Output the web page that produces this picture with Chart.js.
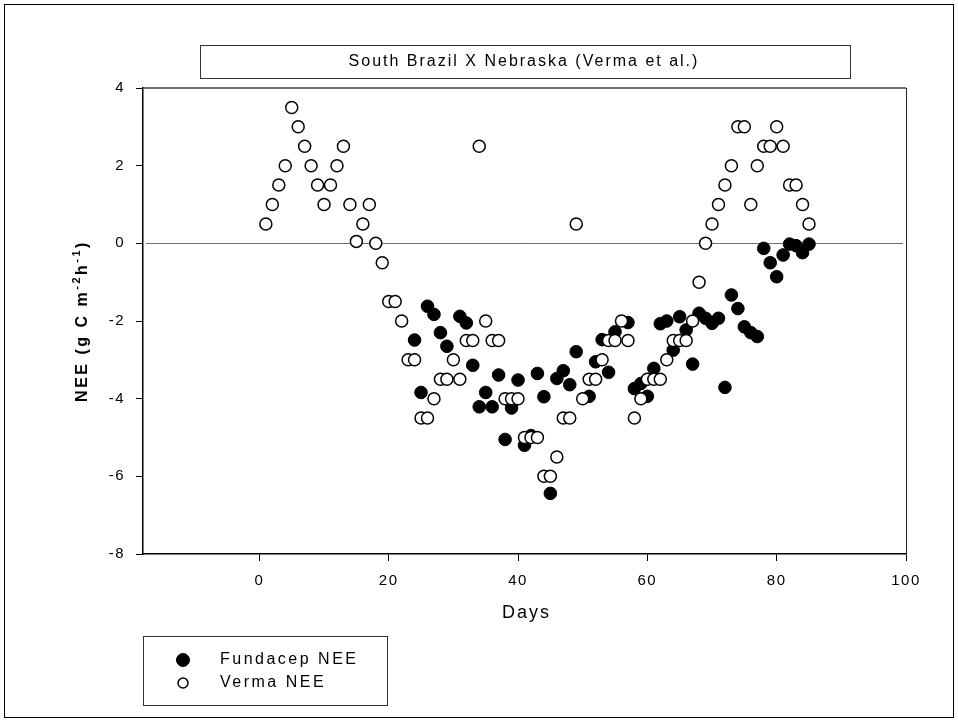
<!DOCTYPE html>
<html>
<head>
<meta charset="utf-8">
<script src="https://cdn.jsdelivr.net/npm/chart.js@4/dist/chart.umd.min.js"></script>
<style>
  html, body { margin: 0; padding: 0; background: #fff; }
  #wrap { width: 958px; height: 722px; position: relative; }
</style>
</head>
<body>
<div id="wrap"><canvas id="c" width="958" height="722"></canvas></div>
<script>
// Days of each measurement and the NEE values (g C m-2 h-1)
const fundacepDays = [24,25,26,27,28,29,31,32,33,34,35,36,37,38,39,40,41,42,43,44,45,46,47,48,49,51,52,53,54,55,57,58,59,60,61,62,63,64,65,66,67,68,69,70,71,72,73,74,75,76,77,78,79,80,81,82,83,84,85];
const fundacepNEE = [-2.49,-3.84,-1.62,-1.83,-2.3,-2.65,-1.88,-2.05,-3.14,-4.21,-3.84,-4.21,-3.39,-5.05,-4.24,-3.52,-5.2,-4.95,-3.35,-3.95,-6.44,-3.48,-3.28,-3.64,-2.79,-3.94,-3.05,-2.48,-3.32,-2.28,-2.04,-3.74,-3.61,-3.94,-3.22,-2.07,-2.0,-2.75,-1.89,-2.23,-3.11,-1.8,-1.93,-2.06,-1.93,-3.71,-1.33,-1.68,-2.15,-2.3,-2.4,-0.13,-0.5,-0.86,-0.3,-0.02,-0.06,-0.24,-0.02];

const vermaDays = [1,2,3,4,5,6,7,8,9,10,11,12,13,14,15,16,17,18,19,20,21,22,23,24,25,26,27,28,29,30,31,32,33,34,35,36,37,38,39,40,41,42,43,44,45,46,47,48,49,50,51,52,53,54,55,56,57,58,59,60,61,62,63,64,65,66,67,68,69,70,71,72,73,74,75,76,77,78,79,80,81,82,83,84,85];
const vermaNEE = [0.5,1.0,1.5,2.0,3.5,3.0,2.5,2.0,1.5,1.0,1.5,2.0,2.5,1.0,0.05,0.5,1.0,0.0,-0.5,-1.5,-1.5,-2.0,-3.0,-3.0,-4.5,-4.5,-4.0,-3.5,-3.5,-3.0,-3.5,-2.5,-2.5,2.5,-2.0,-2.5,-2.5,-4.0,-4.0,-4.0,-5.0,-5.0,-5.0,-6.0,-6.0,-5.5,-4.5,-4.5,0.5,-4.0,-3.5,-3.5,-3.0,-2.5,-2.5,-2.0,-2.5,-4.5,-4.0,-3.5,-3.5,-3.5,-3.0,-2.5,-2.5,-2.5,-2.0,-1.0,0.0,0.5,1.0,1.5,2.0,3.0,3.0,1.0,2.0,2.5,2.5,3.0,2.5,1.5,1.5,1.0,0.5];

const xTicks = [0, 20, 40, 60, 80, 100];
const yTicks = [-8, -6, -4, -2, 0, 2, 4];

const titleText = 'South Brazil X Nebraska (Verma et al.)';
const xTitle = 'Days';

const FONT = '"Liberation Sans", Arial, sans-serif';

function pairs(xs, ys) { return xs.map((x, i) => ({ x: x, y: ys[i] })); }

// Frame, zero line, title box, axis titles and legend box
const decorations = {
  id: 'decorations',
  beforeDraw(chart) {
    // character spacing used for the tick labels
    chart.ctx.letterSpacing = '1.5px';
  },
  beforeDatasetsDraw(chart) {
    const { ctx, chartArea: a, scales: { y } } = chart;
    ctx.save();
    ctx.letterSpacing = '0px';
    // reference line at NEE = 0
    const y0 = Math.round(y.getPixelForValue(0)) + 0.5;
    ctx.strokeStyle = '#6e6e6e';
    ctx.lineWidth = 1;
    ctx.beginPath();
    ctx.moveTo(a.left + 3, y0);
    ctx.lineTo(a.right - 3, y0);
    ctx.stroke();
    ctx.restore();
  },
  afterDraw(chart) {
    const { ctx, chartArea: a } = chart;
    ctx.save();
    ctx.letterSpacing = '0px';
    // top and right sides of the plot frame
    ctx.strokeStyle = '#444';
    ctx.lineWidth = 1.5;
    ctx.beginPath();
    ctx.moveTo(a.left, a.top);
    ctx.lineTo(a.right, a.top);
    ctx.stroke();
    ctx.strokeStyle = '#222';
    ctx.lineWidth = 1;
    ctx.beginPath();
    ctx.moveTo(a.right + 0.5, a.top);
    ctx.lineTo(a.right + 0.5, a.bottom);
    ctx.stroke();

    // outer border
    ctx.strokeStyle = '#000';
    ctx.lineWidth = 1;
    ctx.strokeRect(4.5, 4.5, 949, 713);

    // title box
    ctx.strokeStyle = '#333';
    ctx.strokeRect(200.5, 45.5, 650, 33);
    ctx.fillStyle = '#000';
    ctx.font = '16px ' + FONT;
    ctx.letterSpacing = '2px';
    ctx.textAlign = 'center';
    ctx.textBaseline = 'middle';
    ctx.fillText(titleText, 524, 62);

    // x axis title
    ctx.font = '18px ' + FONT;
    ctx.letterSpacing = '2px';
    ctx.fillText(xTitle, (a.left + a.right) / 2 + 2, 613);

    // y axis title with superscripts
    ctx.save();
    ctx.translate(82, (a.top + a.bottom) / 2);
    ctx.rotate(-Math.PI / 2);
    ctx.letterSpacing = '2.5px';
    const parts = [
      ['NEE (g C m', 16, 0],
      ['-2', 11, -6],
      ['h', 16, 0],
      ['-1', 11, -6],
      [')', 16, 0]
    ];
    let total = 0;
    parts.forEach(p => { ctx.font = 'bold ' + p[1] + 'px ' + FONT; total += ctx.measureText(p[0]).width; });
    let x = -total / 2;
    ctx.textAlign = 'left';
    ctx.textBaseline = 'middle';
    parts.forEach(p => {
      ctx.font = 'bold ' + p[1] + 'px ' + FONT;
      ctx.fillText(p[0], x, p[2] + 1);
      x += ctx.measureText(p[0]).width;
    });
    ctx.restore();

    // legend box
    ctx.strokeStyle = '#333';
    ctx.lineWidth = 1;
    ctx.letterSpacing = '0px';
    ctx.strokeRect(143.5, 636.5, 244, 69);
    const rows = [660, 683];
    const radii = [6.5, 5];
    chart.data.datasets.forEach((ds, i) => {
      const cy = rows[i];
      ctx.beginPath();
      ctx.arc(183, cy, radii[i], 0, Math.PI * 2);
      ctx.fillStyle = ds.backgroundColor;
      ctx.fill();
      ctx.lineWidth = ds.borderWidth;
      ctx.strokeStyle = ds.borderColor;
      ctx.stroke();
      ctx.fillStyle = '#000';
      ctx.font = '16px ' + FONT;
      ctx.letterSpacing = '2.5px';
      ctx.textAlign = 'left';
      ctx.textBaseline = 'middle';
      ctx.fillText(ds.label, 220, cy);
      ctx.letterSpacing = '0px';
    });
    ctx.restore();
  }
};

const chart = new Chart(document.getElementById('c'), {
  type: 'scatter',
  data: {
    datasets: [
      {
        label: 'Fundacep NEE',
        data: pairs(fundacepDays, fundacepNEE),
        backgroundColor: '#000',
        borderColor: '#000',
        borderWidth: 1,
        pointRadius: 6.3,
        order: 1
      },
      {
        label: 'Verma NEE',
        data: pairs(vermaDays, vermaNEE),
        backgroundColor: '#fff',
        borderColor: '#000',
        borderWidth: 1.5,
        pointRadius: 6,
        order: 0
      }
    ]
  },
  options: {
    responsive: false,
    animation: false,
    events: [],
    layout: { padding: { left: 0, top: 88, right: 52, bottom: 108 } },
    plugins: { legend: { display: false }, tooltip: { enabled: false }, title: { display: false } },
    scales: {
      x: {
        type: 'linear',
        min: -18,
        max: 100,
        afterBuildTicks: s => { s.ticks = xTicks.map(v => ({ value: v })); },
        afterFit: s => { s.height = 60; },
        grid: { drawOnChartArea: false, drawTicks: true, tickLength: 7, color: '#000', lineWidth: 1 },
        border: { color: '#000', width: 1.5 },
        ticks: { color: '#000', font: { family: FONT, size: 15 }, padding: 11, maxRotation: 0 }
      },
      y: {
        type: 'linear',
        min: -8,
        max: 4,
        afterBuildTicks: s => { s.ticks = yTicks.map(v => ({ value: v })); },
        afterFit: s => { s.width = 143; },
        grid: { drawOnChartArea: false, drawTicks: true, tickLength: 7, color: '#000', lineWidth: 1 },
        border: { color: '#000', width: 1.5 },
        ticks: { color: '#000', font: { family: FONT, size: 15 }, padding: 11 }
      }
    }
  },
  plugins: [decorations]
});
</script>
</body>
</html>
